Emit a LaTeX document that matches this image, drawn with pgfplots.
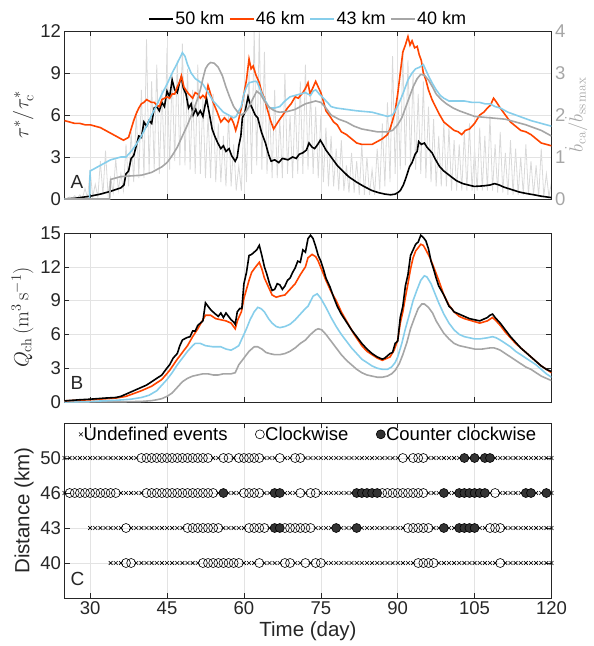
\RequirePackage{fix-cm}
\documentclass[border=0pt]{standalone}
\usepackage[no-math]{fontspec}
\setmainfont{Liberation Sans}
\usepackage{pgfplots}
\usepackage{pgfplotstable}
\pgfplotsset{compat=1.18}

\definecolor{c50}{HTML}{000000}
\definecolor{c46}{HTML}{FF4500}
\definecolor{c43}{HTML}{87CEEB}
\definecolor{c40}{HTML}{A6A6A6}
\definecolor{spk}{HTML}{D9D9D9}
\definecolor{axgray}{HTML}{262626}
\definecolor{gridgray}{HTML}{E3E3E3}
\definecolor{rgray}{HTML}{A6A6A6}
\definecolor{ccw}{HTML}{333333}

\tikzset{pl/.style={anchor=south west, inner sep=0pt, text=axgray}}
\pgfplotsset{
  matlab/.style={
    scale only axis, width=487pt, height=168pt,
    xmin=25, xmax=120, xtick={30,45,...,120},
    font=\fontsize{19}{23}\selectfont,
    /pgf/number format/assume math mode=true,
    axis line style={axgray, line width=0.6pt},
    tick style={axgray, line width=0.6pt},
    major tick length=5pt,
    tick align=inside,
    grid=major, grid style={gridgray, line width=0.5pt},
    ticklabel style={text=axgray, font=\fontsize{18.5}{22}\selectfont},
    label style={text=axgray, font=\fontsize{20.5}{24}\selectfont},
    every axis plot/.append style={line width=1.6pt},
  },
  xm/.style={only marks, mark=x, mark size=2.7pt, line width=0.6pt, black},
  om/.style={only marks, mark=o, mark size=4.5pt, line width=0.6pt, black},
  fm/.style={only marks, mark=*, mark size=4.5pt, line width=0.6pt, draw=black, fill=ccw},
}

% event type per day: 0 undefined, 1 clockwise, 2 counter clockwise, 9 none
\pgfplotstableread{
d   a b c e
25  0 0 9 9
26  0 1 9 9
27  0 1 9 9
28  0 1 9 9
29  0 1 9 9
30  0 1 0 9
31  0 1 0 9
32  0 1 0 9
33  0 1 0 9
34  0 1 0 0
35  0 1 0 0
36  0 0 0 0
37  0 0 1 1
38  0 0 0 1
39  0 0 0 0
40  1 0 0 0
41  1 1 0 0
42  1 1 0 0
43  1 1 0 0
44  1 1 0 0
45  1 1 0 0
46  1 1 0 0
47  1 1 0 0
48  1 1 0 0
49  1 1 1 0
50  1 1 1 0
51  1 1 1 0
52  1 1 1 1
53  1 1 1 1
54  0 1 1 1
55  0 0 1 1
56  1 2 0 1
57  1 0 0 1
58  0 0 0 1
59  1 0 0 1
60  1 1 0 0
61  1 1 1 0
62  1 1 1 0
63  1 1 1 1
64  0 0 1 0
65  0 0 0 0
66  0 2 2 0
67  1 2 2 0
68  0 0 1 1
69  0 0 1 1
70  1 0 1 0
71  1 1 1 0
72  0 0 1 1
73  0 1 1 0
74  0 1 0 1
75  0 0 0 1
76  0 0 0 0
77  0 0 0 0
78  0 0 2 0
79  0 0 0 0
80  0 0 0 0
81  0 0 0 0
82  0 2 2 0
83  0 2 0 0
84  0 2 0 0
85  0 2 0 0
86  0 2 0 0
87  0 1 0 0
88  0 1 0 0
89  0 1 0 0
90  0 1 0 0
91  1 1 0 0
92  0 1 1 0
93  1 1 1 0
94  1 1 1 1
95  1 1 1 1
96  0 0 1 1
97  0 0 0 1
98  0 0 0 0
99  0 2 2 0
100 0 0 0 0
101 0 0 0 0
102 0 2 2 0
103 2 2 2 0
104 0 2 2 0
105 2 2 2 0
106 0 2 0 0
107 2 2 0 0
108 2 0 1 0
109 0 1 1 0
110 0 0 1 1
111 0 0 0 0
112 0 0 0 0
113 0 0 0 0
114 0 0 0 0
115 0 2 0 0
116 0 2 0 0
117 0 0 0 0
118 0 0 0 0
119 0 2 0 0
120 0 0 0 0
}\events

\begin{document}
\begin{tikzpicture}
\path[use as bounding box] (-64.5pt,31pt) rectangle (529.5pt,-615pt);

% ---- A: right axis with bed change rate spikes
\begin{axis}[matlab, at={(0,0)}, anchor=north west,
  ymin=0, ymax=4, ytick={0,1,2,3,4},
  hide x axis, axis y line*=right, y axis line style={draw=none},
  ytick style={rgray}, yticklabel style={text=rgray},
  ylabel={$\dot{b}_{\mathrm{ca}}/\dot{b}_{\mathrm{ss\,max}}$},
  ylabel shift=-7pt,
  ylabel style={text=rgray, font=\fontsize{19}{22}\selectfont}, grid=none]
\addplot[spk, line width=0.8pt] coordinates {
(25,0.02)(25.5,0.01)(26,0.05)(26.5,0.01)(27,0.08)(27.5,0.02)(28,0.1)(28.5,0.02)(29,0.25)(29.5,0.03)
(30,0.7)(30.5,0.05)(31,0.35)(31.5,0.05)(32,0.9)(32.5,0.1)(33,1.15)(33.5,0.1)(34,0.5)(34.5,0.15)
(35,0.95)(35.5,0.2)(36,0.6)(36.5,0.2)(37,1.3)(37.5,0.3)(38,1.6)(38.5,0.4)(39,2.1)(39.5,0.5)
(40,2.6)(40.5,0.5)(41,3.8)(41.5,0.6)(42,2.8)(42.5,0.7)(43,3.2)(43.5,0.6)(44,2.6)(44.5,0.8)
(45,3.6)(45.5,0.7)(46,3.0)(46.5,0.9)(47,3.3)(47.5,0.8)(48,3.7)(48.5,0.8)(49,3.1)(49.5,0.7)
(50,2.6)(50.5,0.6)(51,3.2)(51.5,0.6)(52,2.4)(52.5,0.5)(53,2.0)(53.5,0.5)(54,2.5)(54.5,0.4)
(55,1.8)(55.5,0.4)(56,1.5)(56.5,0.3)(57,2.0)(57.5,0.3)(58,1.3)(58.5,0.2)(59,0.8)(59.5,0.2)
(60,1.9)(60.5,0.4)(61,3.1)(61.5,0.6)(62,4.0)(62.5,0.8)(63,4.0)(63.5,0.7)(64,3.5)(64.5,0.6)
(65,2.2)(65.5,0.5)(66,2.6)(66.5,0.5)(67,1.9)(67.5,0.5)(68,3.0)(68.5,0.6)(69,2.0)(69.5,0.5)
(70,2.4)(70.5,0.6)(71,2.8)(71.5,0.6)(72,3.2)(72.5,0.7)(73,2.6)(73.5,0.6)(74,2.2)(74.5,0.5)
(75,2.0)(75.5,0.4)(76,1.7)(76.5,0.3)(77,1.5)(77.5,0.3)(78,1.2)(78.5,0.2)(79,1.4)(79.5,0.2)
(80,0.8)(80.5,0.15)(81,1.1)(81.5,0.15)(82,0.9)(82.5,0.1)(83,1.3)(83.5,0.1)(84,1.0)(84.5,0.1)
(85,0.7)(85.5,0.1)(86,1.2)(86.5,0.2)(87,1.8)(87.5,0.3)(88,2.3)(88.5,0.4)(89,3.4)(89.5,0.6)
(90,2.6)(90.5,0.7)(91,3.5)(91.5,0.8)(92,3.3)(92.5,0.8)(93,3.0)(93.5,0.7)(94,2.5)(94.5,0.6)
(95,2.8)(95.5,0.5)(96,2.2)(96.5,0.4)(97,1.9)(97.5,0.3)(98,1.5)(98.5,0.3)(99,1.8)(99.5,0.3)
(100,1.7)(100.5,0.2)(101,1.4)(101.5,0.2)(102,1.3)(102.5,0.2)(103,1.6)(103.5,0.2)(104,1.8)(104.5,0.2)
(105,1.2)(105.5,0.2)(106,1.7)(106.5,0.2)(107,1.5)(107.5,0.2)(108,2.0)(108.5,0.2)(109,1.3)(109.5,0.15)
(110,1.6)(110.5,0.15)(111,1.1)(111.5,0.1)(112,1.4)(112.5,0.1)(113,1.2)(113.5,0.1)(114,1.0)(114.5,0.1)
(115,1.3)(115.5,0.1)(116,0.9)(116.5,0.1)(117,0.8)(117.5,0.05)(118,1.2)(118.5,0.05)(119,0.6)(119.5,0.05)
(120,0.4)};
\end{axis}

% ---- A: shear stress ratio
\begin{axis}[matlab, at={(0,0)}, anchor=north west,
  ymin=0, ymax=12, ytick={0,3,...,12}, ytick pos=left,
  xticklabels={},
  ylabel={$\tau^*/\tau^*_{\mathrm{c}}$},
  legend columns=4,
  legend style={at={(0.5,1.0)}, anchor=south, draw=none, fill=none,
    font=\fontsize{18}{21}\selectfont, yshift=1pt,
    /tikz/every even column/.append style={column sep=3pt},
    nodes={inner sep=1.5pt}},
  legend image code/.code={\draw[#1] (0pt,0pt) -- (24pt,0pt);}]
\addplot[c50] coordinates {
(25,0)(27,0.05)(30,0.2)(32,0.35)(34,0.55)(36,0.8)(36.6,1.0)(37,1.8)(37.5,2.0)(38,2.9)(38.5,3.1)(39,3.8)
(39.5,4.5)(40,4.4)(40.5,5.5)(41,5.2)(41.5,5.6)(42,5.4)(42.5,6.5)(43,6.6)(43.5,6.3)(44,6.9)(44.5,6.6)
(45,7.7)(45.5,7.3)(46,8.5)(46.5,7.8)(47,7.6)(47.5,8.4)(47.8,8.7)(48.2,7.9)(48.7,7.5)(49.2,6.5)(49.7,6.8)
(50.1,6.0)(50.6,6.4)(51,6.0)(51.5,6.3)(52,5.9)(52.7,7.2)(53.2,6.2)(53.8,5.0)(54.3,4.5)(54.9,4.0)(55.5,3.6)
(56,3.8)(56.5,3.4)(57.1,3.6)(57.6,3.1)(58.3,2.7)(58.7,3.0)(59,3.8)(59.4,4.5)(59.7,5.8)(60.2,6.2)(60.8,7.3)
(61.2,6.8)(61.6,6.5)(62.2,6.0)(62.7,5.8)(63.4,4.8)(64.2,4.0)(64.8,3.2)(65.3,2.7)(66,2.8)(66.8,2.6)(67.5,2.9)
(68.6,2.8)(69.5,3.0)(70.2,2.9)(70.8,3.2)(71.5,3.3)(72.2,3.5)(72.7,4.0)(73.3,3.7)(73.8,3.6)(74.4,3.9)(74.9,4.2)
(75.4,3.9)(76,3.5)(77,3.0)(78.2,2.4)(79.3,2.0)(80.4,1.6)(82,1.2)(83.4,0.9)(85,0.6)(86.3,0.45)(87.5,0.35)
(88.6,0.3)(89.5,0.35)(90,0.45)(90.5,0.6)(91.1,1.0)(91.6,1.5)(92.3,2.3)(92.8,2.6)(93.4,3.2)(93.8,3.4)(94.1,4.1)
(94.6,3.9)(95.2,4.0)(95.7,3.7)(96.2,3.5)(96.7,3.3)(97.4,2.8)(98.2,2.3)(99,2.0)(100.4,1.6)(101.5,1.3)(102.7,1.1)
(103.8,1.0)(104.9,0.9)(106,0.92)(107,0.95)(108,1.0)(108.9,1.1)(109.8,1.0)(110.7,0.85)(112,0.7)(113.7,0.5)
(115,0.4)(116.6,0.3)(118,0.2)(120,0.1)};
\addlegendentry{50 km}
\addplot[c46] coordinates {
(25,5.6)(26,5.5)(27,5.4)(28,5.4)(29,5.3)(30,5.3)(31,5.2)(32,5.1)(33,4.9)(34,4.7)(35,4.5)(36,4.3)(36.5,4.2)
(37,4.3)(37.5,4.4)(38,5.0)(38.5,5.6)(39,6.1)(39.5,6.5)(40,6.8)(40.5,6.9)(41,7.1)(41.5,7.0)(42,6.9)(42.5,6.9)
(43,6.7)(43.5,6.6)(44,7.1)(44.5,7.2)(45,7.3)(45.5,7.2)(46,7.5)(46.5,7.5)(47,8.0)(47.5,8.4)(47.8,8.8)(48.3,8.0)
(49,7.6)(49.5,7.4)(50,7.2)(50.5,7.6)(51,7.5)(51.5,7.2)(52,7.4)(52.5,7.2)(53,8.1)(53.5,7.5)(54,6.9)(54.8,6.2)
(55.5,5.5)(56.2,5.8)(57,5.5)(57.5,5.8)(58,5.4)(58.4,4.9)(58.8,5.4)(59.5,6.5)(60,7.5)(60.5,8.5)(61,10.0)
(61.4,9.3)(61.8,9.5)(62.3,8.9)(63,8.3)(63.5,7.6)(64,7.2)(64.5,6.5)(65.2,5.6)(65.8,5.0)(66.3,5.3)(67,5.7)
(67.6,6.0)(68.5,6.5)(69.2,6.8)(70,7.3)(70.6,7.2)(71.5,7.6)(72,7.9)(72.5,8.3)(72.9,7.5)(73.4,7.9)(74,8.4)
(74.5,8.0)(75,7.6)(75.5,7.0)(76,6.3)(76.8,5.9)(77.5,5.5)(78.2,5.3)(79,4.8)(80,4.6)(81,4.3)(82,4.0)(83,3.9)
(84,3.9)(85,3.9)(86,4.1)(87,4.3)(88,4.6)(88.5,5.0)(89,5.6)(89.5,6.3)(90,7.5)(90.5,9.0)(91,10.5)(91.5,11.0)
(92,11.6)(92.4,11.0)(92.8,11.3)(93.3,10.8)(93.8,10.9)(94.2,10.3)(94.6,9.9)(95,9.0)(95.5,8.5)(96,7.8)(96.7,7.1)
(97.5,6.5)(98.2,6.0)(99,5.5)(100,5.2)(101,4.9)(101.8,4.8)(102.5,4.6)(103.2,4.9)(104,5.0)(105,5.4)(106,6.0)
(106.8,6.2)(107.5,6.5)(108.1,6.7)(108.7,7.2)(109.3,6.9)(110,6.5)(111,6.0)(112,5.5)(113,5.2)(114,4.9)
(115,4.8)(116,4.6)(117,4.3)(118,4.0)(119,3.9)(120,3.8)};
\addlegendentry{46 km}
\addplot[c43] coordinates {
(25,0)(29.9,0)(30,2.0)(31,2.2)(32,2.4)(33,2.6)(34,2.8)(35,2.9)(36,3.0)(37,3.0)(38,3.4)(39,3.9)(40,4.5)
(41,5.2)(42,6.0)(43,6.7)(44,7.5)(45,8.2)(46,9.0)(47,9.7)(48,10.45)(48.5,10.2)(49,9.6)(49.7,9.0)(50.5,8.6)
(51.3,8.4)(52,8.2)(53,7.6)(54,7.0)(55,6.6)(56,6.2)(57,6.0)(58,5.8)(58.5,5.9)(59,6.3)(59.5,6.6)(60,7.5)
(60.5,8.0)(61,8.3)(62,8.4)(62.5,8.4)(63,8.0)(63.5,7.5)(64.2,7.0)(65,6.5)(66,6.5)(67,6.6)(68,7.0)(69,7.3)
(70,7.4)(71,7.5)(72,7.6)(73,7.4)(73.5,7.7)(74,7.8)(74.7,7.5)(75.5,7.2)(76.3,6.9)(77,6.6)(78,6.5)(80,6.4)
(82,6.3)(85,6.2)(87,6.0)(88,5.9)(89,6.0)(89.5,6.3)(90.2,6.8)(91,7.5)(92,8.5)(92.8,9.0)(93.5,9.3)(94.2,9.4)
(95,9.6)(95.5,9.2)(96,8.8)(96.7,8.3)(97.5,7.8)(98.3,7.4)(99,7.2)(100,7.0)(101,7.0)(103,7.0)(104.5,6.9)
(106,6.9)(107,6.8)(108,6.8)(109,6.6)(110,6.5)(111.5,6.2)(113,6.0)(114.5,5.8)(116,5.6)(118,5.4)(120,5.2)};
\addlegendentry{43 km}
\addplot[c40] coordinates {
(25,0)(33.8,0)(34,1.4)(36,1.6)(38,1.65)(40,1.7)(42,1.9)(43,2.1)(44,2.3)(45,2.6)(46,3.1)(47,3.7)(48,4.5)
(49,5.3)(50,6.2)(51,7.2)(51.5,7.8)(52,8.6)(52.5,9.3)(53,9.6)(53.5,9.75)(54.2,9.7)(55,9.4)(55.8,8.8)(56.5,8.0)
(57.2,7.3)(58,6.6)(58.8,6.2)(59.5,6.0)(60.3,6.2)(61,6.6)(61.8,7.2)(62.5,7.7)(63.2,7.5)(64,7.0)(64.8,6.6)
(65.5,6.4)(66.3,6.25)(67,6.2)(68.5,6.25)(70,6.4)(71,6.6)(72,6.8)(73,6.9)(74,7.0)(75,6.9)(75.8,6.6)(77,6.0)
(78.5,5.7)(80,5.5)(81.5,5.2)(83,5.0)(84.5,4.9)(86,4.8)(88,4.8)(89,4.9)(90,5.3)(90.8,5.8)(91.5,6.5)(92.3,7.3)
(93,8.0)(93.8,8.6)(94.5,8.9)(95.2,8.85)(96,8.5)(96.8,8.0)(97.5,7.5)(98.5,7.1)(99.5,6.8)(100.8,6.5)(102,6.3)
(103.5,6.1)(105,5.9)(106.5,5.85)(108,5.8)(109.5,5.75)(111,5.7)(113,5.5)(115,5.3)(116.5,5.1)(118,4.9)(120,4.5)};
\addlegendentry{40 km}
\node[pl] at (rel axis cs:0.012,0.06) {A};
\end{axis}

% ---- B: channel discharge
\begin{axis}[matlab, at={(0,-202pt)}, anchor=north west, height=169pt,
  ymin=0, ymax=15, ytick={0,3,...,15},
  xticklabels={},
  ylabel={$Q_{\mathrm{ch}}\,(\mathrm{m^3\,s^{-1}})$}]
\addplot[c40] coordinates {
(25,0)(35,0.01)(40,0.05)(42,0.12)(43,0.2)(44,0.3)(45,0.5)(46,0.8)(47,1.3)(48,1.8)(49,2.1)(50,2.3)(51,2.4)
(52,2.5)(53,2.5)(54,2.4)(55,2.4)(56,2.5)(57.5,2.5)(58.3,2.6)(59,3.3)(60,3.9)(61,4.5)(62,4.9)(62.7,4.9)
(63.5,4.7)(64.3,4.4)(65,4.3)(66,4.2)(67,4.2)(68,4.3)(69,4.5)(70,4.8)(71,5.2)(72,5.5)(73,6.0)(74,6.4)(74.5,6.5)
(75.2,6.4)(76,6.0)(77,5.4)(78,4.8)(79,4.2)(80,3.7)(81,3.3)(82,2.9)(83,2.6)(84,2.4)(85,2.3)(86,2.2)(87,2.2)
(88,2.3)(88.8,2.5)(89.5,2.8)(90.3,3.4)(91,4.2)(91.8,5.3)(92.5,6.5)(93.3,7.5)(94,8.3)(94.7,8.7)(95.2,8.7)
(96,8.4)(96.8,7.9)(97.5,7.2)(98.3,6.6)(99,6.1)(100,5.6)(101,5.2)(102,5.0)(103,4.9)(104,4.8)(105,4.7)
(106.5,4.7)(108,4.8)(108.8,4.8)(109.5,4.7)(110,4.6)(111,4.3)(112,4.0)(113,3.7)(114,3.4)(115,3.1)(116,2.9)
(117,2.6)(118,2.3)(119,2.1)(120,1.9)};
\addplot[c43] coordinates {
(25,0)(30,0.05)(35,0.15)(38,0.25)(40,0.4)(41.5,0.6)(43,1.0)(44,1.5)(45,2.0)(46,2.6)(47,3.3)(48,3.9)(49,4.5)
(50,5.0)(50.5,5.2)(51.5,5.2)(52.5,5.0)(54,4.9)(55.5,4.9)(56.5,4.7)(57.5,4.6)(58.3,4.8)(59,5.0)(59.8,5.8)
(60.5,6.5)(61.2,7.3)(62,8.0)(62.7,8.4)(63.3,8.3)(64,8.0)(64.8,7.4)(65.5,7.0)(66.3,6.7)(67,6.6)(68,6.7)
(69,6.9)(70,7.3)(71,7.8)(72,8.3)(72.5,8.5)(73.5,9.4)(74.3,9.6)(75,9.2)(76,8.4)(77,7.5)(78,6.7)(79,6.0)
(80,5.4)(81,4.8)(82,4.3)(83,3.8)(84,3.5)(85,3.2)(86,3.0)(87,2.9)(88,2.9)(88.8,3.1)(89.5,3.5)(90,4.0)
(90.8,5.2)(91.5,6.5)(92.3,7.8)(93,9.0)(93.8,10.0)(94.5,10.8)(95.2,11.2)(95.7,11.1)(96.5,10.5)(97.2,9.7)
(98,8.8)(99,7.8)(100,7.0)(101,6.4)(102,6.0)(103,5.8)(104,5.7)(105,5.6)(106,5.6)(107.5,5.7)(108.5,5.8)
(109.2,5.7)(110,5.5)(111,5.2)(112,4.9)(113,4.5)(114,4.2)(115,3.9)(116,3.6)(117,3.3)(118,2.9)(119,2.5)(120,2.2)};
\addplot[c46] coordinates {
(25,0.1)(30,0.2)(35,0.35)(37,0.5)(40,1.0)(42,1.4)(44,2.0)(45.5,2.8)(47,3.8)(48,4.4)(49,5.0)(50,5.8)(51,6.5)
(52,7.3)(52.5,7.7)(53.5,7.7)(54.5,7.4)(55.5,7.3)(56.5,7.2)(57.5,7.0)(58.3,6.5)(58.8,7.3)(59.5,8.0)(60,9.2)
(60.5,10.0)(61,10.8)(61.5,11.5)(62.3,12.0)(63,12.4)(63.5,11.8)(64,11.0)(64.8,10.2)(65.5,9.5)(66.3,9.3)
(67,9.4)(68,9.5)(69,10.0)(70,10.5)(71,11.3)(72,12.0)(72.5,12.8)(73.3,13.1)(74,12.9)(74.5,12.5)(75.3,11.6)
(76,10.8)(77,9.8)(78,9.0)(79,8.0)(80,7.2)(81.5,6.0)(83,5.0)(84,4.5)(85,4.2)(86,3.9)(87,3.7)(88,3.9)
(88.5,4.0)(89.3,4.6)(90,5.5)(90.5,7.0)(91,8.0)(91.5,9.3)(92,10.5)(92.5,11.8)(93,12.8)(93.5,13.4)(94.5,14.0)
(95,13.9)(95.5,13.5)(96.3,12.8)(97,12.0)(98,10.8)(99,9.5)(100,8.6)(101,8.0)(102,7.6)(103,7.4)(104.5,7.2)
(106,7.0)(107.5,7.2)(108.5,7.5)(109.2,7.2)(110,6.8)(111,6.2)(112,5.7)(113,5.2)(114,4.8)(115,4.4)(116,4.0)
(117,3.6)(118,3.2)(119,2.9)(120,2.6)};
\addplot[c50] coordinates {
(25,0.1)(28,0.2)(30,0.25)(33,0.35)(35,0.4)(36,0.5)(37,0.7)(38,0.9)(39,1.1)(40,1.3)(41,1.5)(42,1.8)(43,2.1)
(44,2.4)(44.8,2.9)(45.5,3.3)(46.2,3.9)(47,4.3)(47.5,5.0)(48,5.5)(48.8,5.7)(49.5,5.8)(50,6.3)(50.5,6.3)
(51,6.8)(51.5,7.0)(52,7.2)(52.5,8.8)(53,8.5)(53.5,8.2)(54.2,7.9)(55,7.6)(55.5,7.9)(56,7.5)(56.5,7.9)
(57,7.6)(57.5,7.3)(58,7.1)(58.3,6.9)(58.7,8.0)(59.2,8.3)(59.6,8.3)(60,10.5)(60.5,11.5)(61,13.0)(61.5,13.1)
(62,13.3)(62.5,13.5)(63,13.9)(63.5,13.0)(64,12.0)(64.5,11.3)(65,10.5)(65.5,9.9)(66,10.0)(66.5,10.5)
(67,10.4)(67.5,10.0)(68,10.3)(68.5,10.8)(69,11.0)(69.5,11.5)(70,11.9)(70.5,12.5)(71,12.4)(71.5,13.5)
(72,13.3)(72.5,14.5)(73,14.8)(73.5,14.5)(74,13.8)(74.5,13.0)(75,12.5)(75.5,11.8)(76,11.0)(76.8,10.2)
(77.5,9.3)(78.2,8.5)(79,7.8)(80,7.1)(81,6.4)(82,5.8)(83,5.2)(84,4.7)(85,4.3)(86,4.0)(87,3.8)(87.5,3.9)
(88,4.1)(88.5,4.3)(89,4.4)(89.5,5.2)(90,5.4)(90.5,7.5)(91,8.5)(91.5,10.3)(92,11.3)(92.5,13.0)(93,13.5)
(93.5,14.0)(94,14.2)(94.5,14.8)(95,14.6)(95.5,14.3)(96,13.6)(96.5,12.5)(97,11.8)(97.5,11.0)(98,10.3)
(99,9.5)(99.5,9.0)(100,8.5)(100.5,8.3)(101,8.0)(102,7.8)(103,7.6)(104,7.4)(105,7.3)(106,7.2)(107,7.4)
(107.5,7.5)(108,7.7)(108.5,7.8)(109,7.5)(110,7.0)(111,6.4)(112,5.8)(113,5.3)(114,4.8)(115,4.4)(116,4.0)
(117,3.6)(118,3.2)(119,2.9)(120,2.7)};
\node[pl] at (rel axis cs:0.012,0.07) {B};
\end{axis}

% ---- C: hysteresis events (rows: 4 = 50 km, 3 = 46 km, 2 = 43 km, 1 = 40 km)
\begin{axis}[matlab, at={(0,-392pt)}, anchor=north west, height=175pt,
  ymin=0, ymax=5, ytick={1,2,3,4}, yticklabels={40,43,46,50},
  xlabel={Time (day)}, ylabel={Distance (km)},
  legend columns=3,
  legend style={at={(0.5,0.995)}, anchor=north, draw=none, fill=none,
    font=\fontsize{18.5}{21}\selectfont,
    /tikz/every even column/.append style={column sep=27pt},
    nodes={inner sep=0.8pt}},
  legend image code/.code={\draw[#1] plot coordinates {(5pt,0pt)};}]
\addplot[xm, restrict expr to domain={\thisrow{a}}{0:0}] table[x=d, y expr=4] {\events};
\addlegendentry{Undefined events}
\addplot[xm, forget plot, restrict expr to domain={\thisrow{b}}{0:0}] table[x=d, y expr=3] {\events};
\addplot[xm, forget plot, restrict expr to domain={\thisrow{c}}{0:0}] table[x=d, y expr=2] {\events};
\addplot[xm, forget plot, restrict expr to domain={\thisrow{e}}{0:0}] table[x=d, y expr=1] {\events};
\addplot[om, restrict expr to domain={\thisrow{a}}{1:1}] table[x=d, y expr=4] {\events};
\addlegendentry{Clockwise}
\addplot[om, forget plot, restrict expr to domain={\thisrow{b}}{1:1}] table[x=d, y expr=3] {\events};
\addplot[om, forget plot, restrict expr to domain={\thisrow{c}}{1:1}] table[x=d, y expr=2] {\events};
\addplot[om, forget plot, restrict expr to domain={\thisrow{e}}{1:1}] table[x=d, y expr=1] {\events};
\addplot[fm, restrict expr to domain={\thisrow{a}}{2:2}] table[x=d, y expr=4] {\events};
\addlegendentry{Counter clockwise}
\addplot[fm, forget plot, restrict expr to domain={\thisrow{b}}{2:2}] table[x=d, y expr=3] {\events};
\addplot[fm, forget plot, restrict expr to domain={\thisrow{c}}{2:2}] table[x=d, y expr=2] {\events};
\addplot[fm, forget plot, restrict expr to domain={\thisrow{e}}{2:2}] table[x=d, y expr=1] {\events};
\node[pl] at (rel axis cs:0.012,0.07) {C};
\end{axis}
\end{tikzpicture}
\end{document}
